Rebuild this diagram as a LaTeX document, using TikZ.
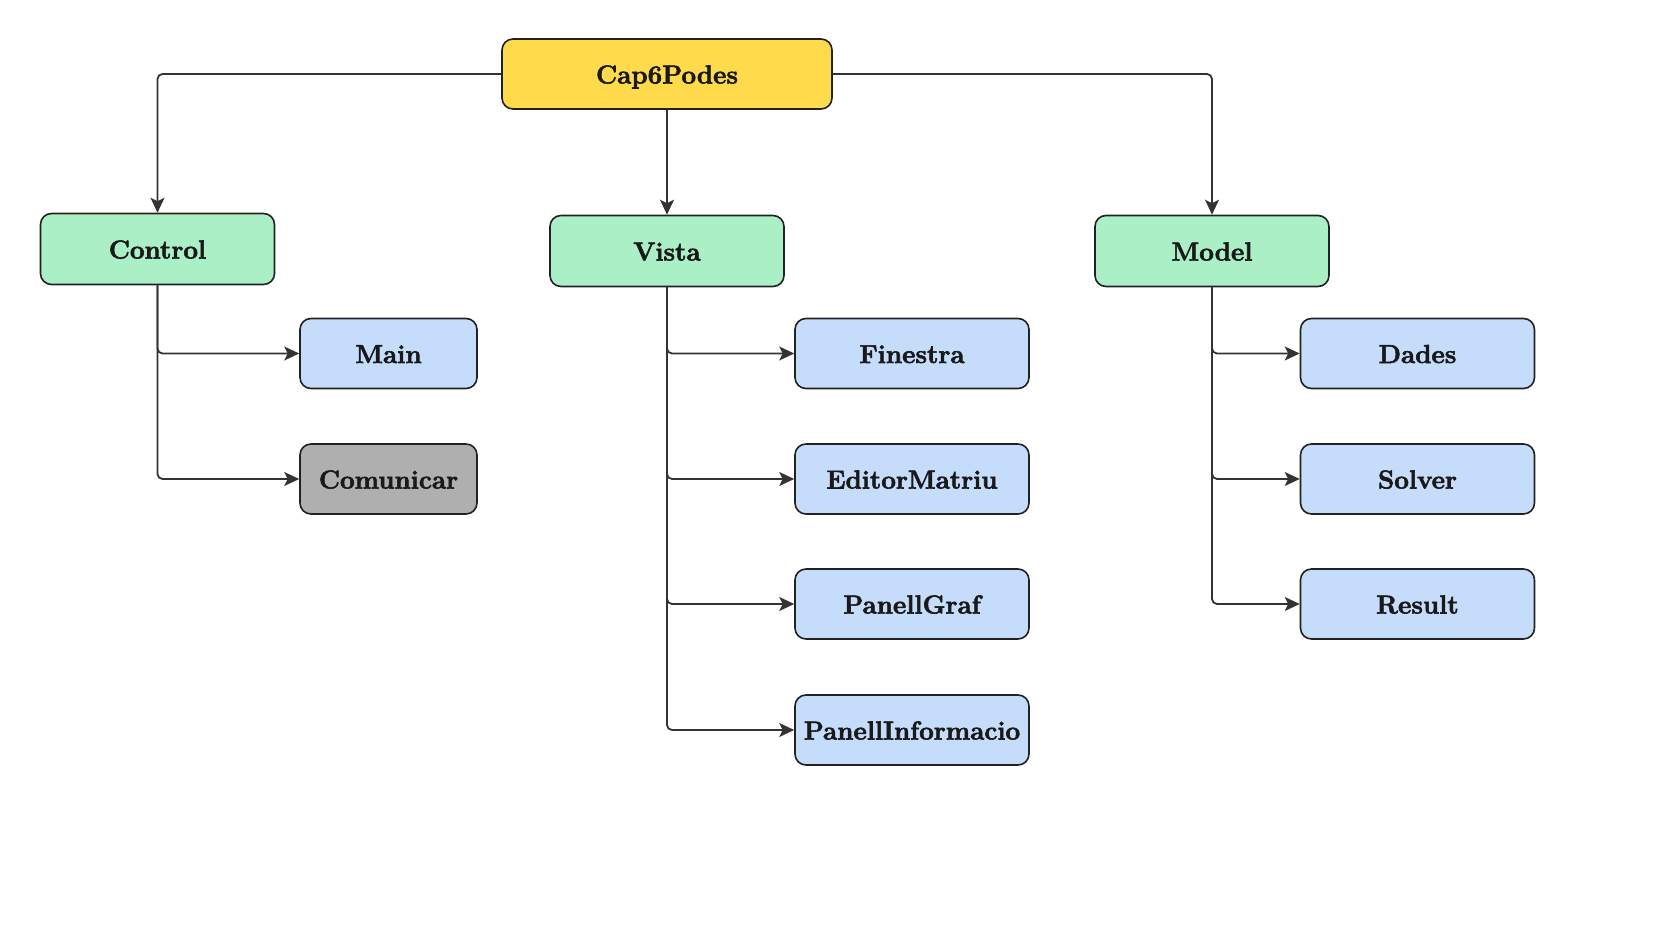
\documentclass[tikz,border=0pt]{standalone}
\usepackage{fontspec}
\newfontfamily\heavyfont{Latin Modern Roman}[BoldFeatures={FakeBold=2.2}]
\usetikzlibrary{arrows.meta}
\definecolor{capyellow}{HTML}{FFDA4A}
\definecolor{grpgreen}{HTML}{ABEFC6}
\definecolor{leafblue}{HTML}{C5DCFB}
\definecolor{leafgray}{HTML}{AFAFAF}
\definecolor{edgecol}{HTML}{333333}
\definecolor{bordercol}{HTML}{222222}
\begin{document}
\begin{tikzpicture}[x=1pt,y=-1pt,
  box/.style={draw=bordercol, line width=1.6pt, rounded corners=11pt, align=center,
    font=\fontsize{26}{31}\selectfont\heavyfont\bfseries, text=black!90, inner sep=0pt,
    text height=25pt, text depth=6pt},
  capbox/.style={box, fill=capyellow, minimum width=330pt, minimum height=70pt},
  grpbox/.style={box, fill=grpgreen, minimum width=234pt, minimum height=71pt},
  leafbox/.style={box, fill=leafblue, minimum width=234pt, minimum height=70pt},
  smallbox/.style={box, minimum width=177pt, minimum height=70pt},
  conn/.style={draw=edgecol, line width=1.8pt, rounded corners=5pt,
    -{Stealth[length=15pt,width=14pt,inset=3.5pt]}}
]
\useasboundingbox (0,0) rectangle (1658,941);
\node[capbox] (cap) at (667,74) {Cap6Podes};
\node[grpbox] (control) at (157.5,249) {Control};
\node[grpbox] (vista) at (667,251) {Vista};
\node[grpbox] (model) at (1212,251) {Model};

\node[smallbox, fill=leafblue] (main) at (388.5,353.5) {Main};
\node[smallbox, fill=leafgray] (comunicar) at (388.5,479) {Comunicar};

\node[leafbox] (finestra) at (912,353.5) {Finestra};
\node[leafbox] (editor) at (912,479) {EditorMatriu};
\node[leafbox] (panellgraf) at (912,604) {PanellGraf};
\node[leafbox] (panellinfo) at (912,730) {PanellInformacio};

\node[leafbox] (dades) at (1417.5,353.5) {Dades};
\node[leafbox] (solver) at (1417.5,479) {Solver};
\node[leafbox] (result) at (1417.5,604) {Result};

\draw[conn] (cap.west) -| (control.north);
\draw[conn] (cap.south) -- (vista.north);
\draw[conn] (cap.east) -| (model.north);

\draw[conn] (control.south) |- (main.west);
\draw[conn] (control.south) |- (comunicar.west);

\draw[conn] (vista.south) |- (finestra.west);
\draw[conn] (vista.south) |- (editor.west);
\draw[conn] (vista.south) |- (panellgraf.west);
\draw[conn] (vista.south) |- (panellinfo.west);

\draw[conn] (model.south) |- (dades.west);
\draw[conn] (model.south) |- (solver.west);
\draw[conn] (model.south) |- (result.west);
\end{tikzpicture}
\end{document}
